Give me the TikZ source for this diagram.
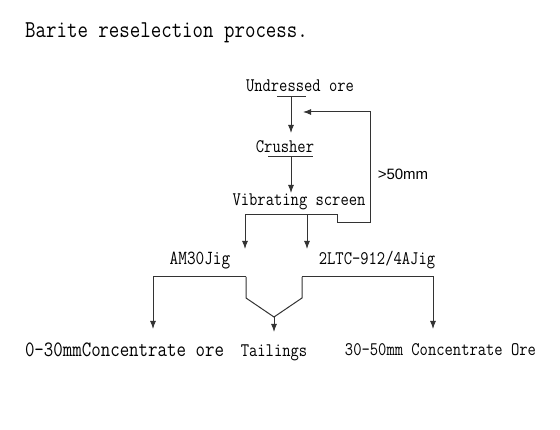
\documentclass[tikz,border=0pt]{standalone}
\usepackage{fontspec}
\usepackage{graphicx}
\newfontfamily\labelsans{Liberation Sans}
\usetikzlibrary{arrows.meta}
\newcommand{\slim}[1]{\scalebox{0.84}[1]{#1}}
\tikzset{
  txt/.style={font=\ttfamily\fontsize{19.2}{21}\selectfont, inner sep=0pt, anchor=base},
  flow/.style={draw=black!80, line width=1pt},
  arr/.style={flow, -{Latex[length=8pt,width=6pt]}}
}
\begin{document}
\begin{tikzpicture}[x=1pt,y=-1pt]
	\useasboundingbox (0,0) rectangle (560,430);
	% texts
	\node[txt,anchor=base west,font=\ttfamily\fontsize{24.2}{26}\selectfont] (title) at (25,38) {\slim{Barite reselection process.}};
	\node[txt] (ore) at (300,92) {\slim{Undressed ore}};
	\node[txt] (crusher) at (285,153) {\slim{Crusher}};
	\node[txt] (screen) at (299,206) {\slim{Vibrating screen}};
	\node[txt,font=\labelsans\fontsize{15}{17}\selectfont] (over) at (403,180) {>50mm};
	\node[txt,font=\ttfamily\fontsize{20}{22}\selectfont] (amjig) at (200,265) {\slim{AM30Jig}};
	\node[txt] (ltcjig) at (377,265) {\slim{2LTC-912/4AJig}};
	\node[txt,font=\ttfamily\fontsize{21.9}{23}\selectfont] (fine) at (124.5,357) {\slim{0-30mmConcentrate ore}};
	\node[txt] (tail) at (274,357) {\slim{Tailings}};
	\node[txt] (coarse) at (440.5,356) {\slim{30-50mm Concentrate Ore}};
	% points of the lines
	\coordinate (ob1) at (277,97);
	\coordinate (ob2) at (306,97);
	\coordinate (oa) at (291,97);
	\coordinate (ot) at (291,133);
	\coordinate (cb1) at (268,157);
	\coordinate (cb2) at (313,157);
	\coordinate (ca) at (291,157);
	\coordinate (st) at (291,193);
	\coordinate (s1) at (245,215);
	\coordinate (sm) at (307,215);
	\coordinate (s2) at (337,215);
	\coordinate (s3) at (337,223);
	\coordinate (s4) at (370,223);
	\coordinate (s5) at (370,112);
	\coordinate (s6) at (303,112);
	\coordinate (d1) at (245,249);
	\coordinate (d2) at (307,249);
	\coordinate (j1) at (153,277);
	\coordinate (j2) at (246,277);
	\coordinate (j3) at (246,298);
	\coordinate (jt) at (274,317);
	\coordinate (k1) at (433,277);
	\coordinate (k2) at (302,277);
	\coordinate (k3) at (302,298);
	\coordinate (ft) at (153,329);
	\coordinate (tt) at (274,332);
	\coordinate (ct) at (433,329);
	% lines
	\draw[flow] (ob1) -- (ob2);
	\draw[arr] (oa) -- (ot);
	\draw[flow] (cb1) -- (cb2);
	\draw[arr] (ca) -- (st);
	\draw[arr] (s1) -- (s2) -- (s3) -- (s4) -- (s5) -- (s6);
	\draw[arr] (s1) -- (d1);
	\draw[arr] (sm) -- (d2);
	\draw[arr] (j2) -- (j1) -- (ft);
	\draw[flow] (j2) -- (j3) -- (jt) -- (k3) -- (k2);
	\draw[arr] (k2) -- (k1) -- (ct);
	\draw[arr] (jt) -- (tt);
\end{tikzpicture}
\end{document}
